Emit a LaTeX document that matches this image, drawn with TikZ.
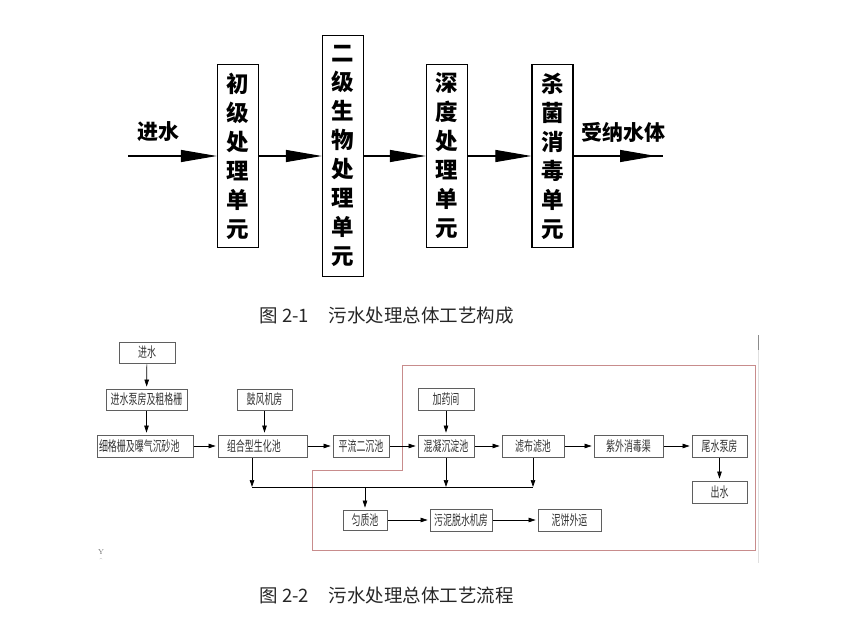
\documentclass[tikz,border=0pt]{standalone}
\usepackage{fontspec}
\usepackage{tikz}
\usetikzlibrary{arrows.meta,positioning}
\newfontfamily\cjk{Noto Sans CJK SC}
\newfontfamily\cjkn[FakeStretch=0.64]{Noto Sans CJK SC}
\definecolor{zoneline}{RGB}{200,140,140}
\definecolor{boxgray}{RGB}{95,95,95}

\begin{document}
\begin{tikzpicture}[
  x=1pt, y=-1pt,
  unit/.style={draw,line width=1.3pt,minimum width=41pt,inner sep=0pt,align=center,
    font=\cjk\bfseries\fontsize{22.5}{29}\selectfont},
  bigflow/.style={line width=1.2pt,-{Triangle[length=36pt,width=12pt]}},
  stage/.style={draw=boxgray,line width=0.8pt,minimum height=22pt,inner sep=1pt,
    font=\cjkn\fontsize{14}{14}\selectfont,text=black!80},
  flow/.style={line width=0.7pt,-{Triangle[length=7pt,width=4.5pt]},shorten >=2pt,shorten <=1pt},
  figtitle/.style={font=\cjk\fontsize{18.5}{18.5}\selectfont,anchor=west,text=black!85}
]
\useasboundingbox (0,0) rectangle (849,618);

\coordinate (in) at (128,156);
\node[font=\cjk\bfseries\fontsize{21}{21}\selectfont] (intext) at (158,132) {进水};
\node[unit,minimum height=183pt] (u1) at (238,156) {初\\级\\处\\理\\单\\元};
\node[unit,minimum height=241pt] (u2) at (343,156) {二\\级\\生\\物\\处\\理\\单\\元};
\node[unit,minimum height=183pt] (u3) at (447,156) {深\\度\\处\\理\\单\\元};
\node[unit,minimum height=183pt] (u4) at (552.5,156) {杀\\菌\\消\\毒\\单\\元};
\node[font=\cjk\bfseries\fontsize{21}{21}\selectfont] (outtext) at (623,132) {受纳水体};
\coordinate (out) at (663,156);
\coordinate (outtip) at (656,156);
\draw[bigflow] (in) -- (u1);
\draw[bigflow] (u1) -- (u2);
\draw[bigflow] (u2) -- (u3);
\draw[bigflow] (u3) -- (u4);
\draw[line width=1.2pt] (u4) -- (out);
\draw[bigflow] (u4) -- (outtip);
\node[figtitle] (title1) at (256,316) {图\hspace{4pt}2-1\hspace{20pt}污水处理总体工艺构成};

\draw[zoneline,line width=1pt] (402,365) -- (755,365) -- (755,550) -- (312,550)
  -- (312,470) -- (402,470) -- cycle;
\draw[black!12,line width=0.6pt] (758,335) -- (758,563);
\draw[black!45,line width=0.6pt] (758,335) -- (758,350);

\node[stage,minimum width=56pt,minimum height=21pt] (inlet) at (147,352.5) {进水};
\node[stage,minimum width=81pt,minimum height=21pt] (pump) at (146.5,399.5) {进水泵房及粗格栅};
\node[stage,minimum width=96pt,text width=92pt,align=left] (grit) at (145,446) {细格栅及曝气沉砂池};
\node[stage,minimum width=55pt,minimum height=21pt] (blower) at (264.5,399.5) {鼓风机房};
\node[stage,minimum width=89pt,text width=85pt,align=left] (bio) at (262.5,446) {\hspace*{7pt}组合型生化池};
\node[stage,minimum width=56pt] (clar) at (361,446) {平流二沉池};
\node[stage,minimum width=56pt] (dose) at (446,399) {加药间};
\node[stage,minimum width=56pt] (coag) at (446,446) {混凝沉淀池};
\node[stage,minimum width=62pt] (filt) at (533,446) {滤布滤池};
\node[stage,minimum width=69pt] (uv) at (628.5,446) {紫外消毒渠};
\node[stage,minimum width=55pt] (tail) at (719.5,446) {尾水泵房};
\node[stage,minimum width=55pt] (outlet) at (719.5,492) {出水};
\node[stage,minimum width=44pt,minimum height=20pt] (equal) at (365,520) {匀质池};
\node[stage,minimum width=62pt] (dewater) at (461,520) {污泥脱水机房};
\node[stage,minimum width=63pt] (cake) at (569.5,520) {泥饼外运};
\coordinate (s1) at (252,487);
\coordinate (s2) at (533,487);

\draw[flow] (inlet) -- (pump);
\draw[flow] (pump) -- (pump |- grit.north);
\draw[flow] (grit) -- (bio);
\draw[flow] (blower) -- (blower |- bio.north);
\draw[flow] (bio) -- (clar);
\draw[flow] (clar) -- (coag);
\draw[flow] (dose) -- (coag);
\draw[flow] (coag) -- (filt);
\draw[flow] (filt) -- (uv);
\draw[flow] (uv) -- (tail);
\draw[flow] (tail) -- (outlet);
\draw[flow,shorten >=0pt] (bio.south -| s1) -- (s1);
\draw[line width=0.7pt] (s1) -- (s2);
\draw[flow,shorten >=0pt] (coag) -- (coag |- s1);
\draw[flow,shorten >=0pt] (filt) -- (s2);
\draw[flow] (equal |- s1) -- (equal);
\draw[flow] (equal) -- (dewater);
\draw[flow] (dewater) -- (cake);

\node[font=\fontsize{7}{7}\selectfont,text=black!60] (ymark) at (101,552) {Y};
\node[font=\fontsize{5}{5}\selectfont,text=black!60] (amark) at (101,561) {\textasciicircum};
\node[figtitle] (title2) at (256,595) {图\hspace{4pt}2-2\hspace{20pt}污水处理总体工艺流程};
\end{tikzpicture}
\end{document}
